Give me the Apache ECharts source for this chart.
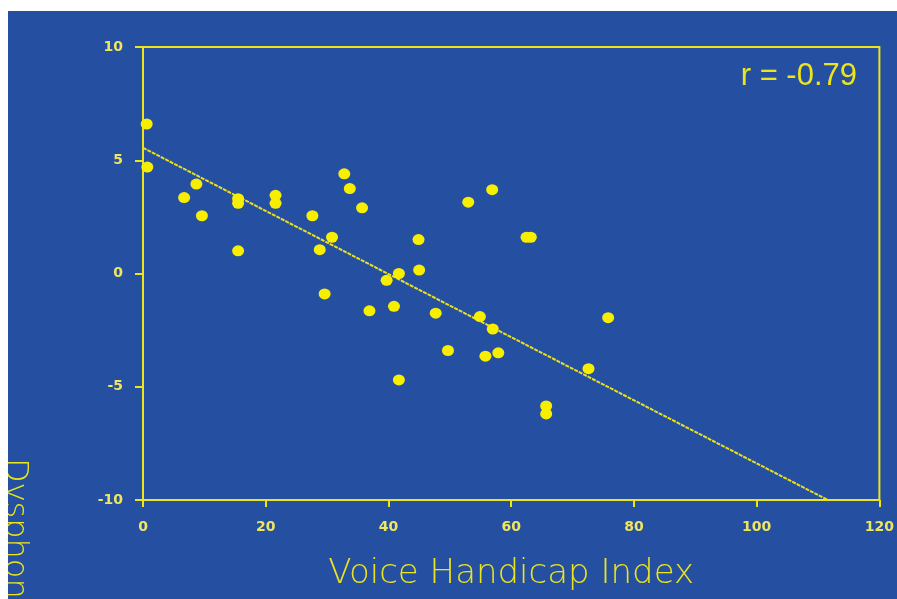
<!DOCTYPE html>
<html>
<head>
<meta charset="utf-8">
<script src="https://cdn.jsdelivr.net/npm/echarts@6/dist/echarts.min.js"></script>
<style>
  html, body { margin: 0; padding: 0; background: #ffffff; }
  #main { position: absolute; left: 8px; top: 11px; width: 889px; height: 588px; }
</style>
</head>
<body>
<div id="main"></div>
<script>
// Voice Handicap Index (x) vs dysphonia score (y)
const vhi = [0.6, 0.7, 6.7, 8.7, 9.6, 15.5, 15.5, 15.5, 21.6, 21.6, 27.6, 28.8, 29.6, 30.8, 32.8, 33.7, 35.7, 36.9, 39.7, 40.9,
             41.7, 41.7, 44.9, 45.0, 47.7, 49.7, 53.0, 54.9, 55.8, 56.9, 57.0, 57.9, 62.5, 63.2, 65.7, 65.7, 72.6, 75.8];
const dsi = [6.6, 4.7, 3.35, 3.95, 2.55, 3.3, 3.1, 1.0, 3.45, 3.1, 2.55, 1.05, -0.9, 1.6, 4.4, 3.75, 2.9, -1.65, -0.3, -1.45,
             0.0, -4.7, 1.5, 0.15, -1.75, -3.4, 3.15, -1.9, -3.65, 3.7, -2.45, -3.5, 1.6, 1.6, -5.85, -6.2, -4.2, -1.95];
// fitted line end points
const fitX = [0, 111.6];
const fitY = [5.55, -10];
const xTicks = [0, 20, 40, 60, 80, 100, 120];
const yTicks = [-10, -5, 0, 5, 10];

const yellow = '#ece41c';
const labelColor = '#eee660';
const blue = '#254fa0';

let myChart = echarts.init(document.getElementById('main'));
let option = {
  backgroundColor: blue,
  animation: false,
  grid: {
    left: 135, top: 36, width: 737, height: 453,
    show: true, borderColor: yellow, borderWidth: 2, backgroundColor: 'transparent'
  },
  xAxis: {
    type: 'value', min: xTicks[0], max: xTicks[xTicks.length - 1], interval: 20,
    name: 'Voice Handicap Index', nameLocation: 'middle', nameGap: 57,
    nameTextStyle: { color: yellow, fontSize: 34, fontFamily: 'DejaVu Sans', fontWeight: 200 },
    axisLine: { show: true, onZero: false, lineStyle: { color: yellow, width: 2 } },
    axisTick: { show: true, inside: false, length: 7, lineStyle: { color: yellow, width: 2 } },
    axisLabel: { color: labelColor, fontSize: 14, fontWeight: 'bold', fontFamily: 'DejaVu Sans', margin: 20 },
    splitLine: { show: false }
  },
  yAxis: {
    type: 'value', min: yTicks[0], max: yTicks[yTicks.length - 1], interval: 5,
    axisLine: { show: true, onZero: false, lineStyle: { color: yellow, width: 2 } },
    axisTick: { show: true, inside: false, length: 8, lineStyle: { color: yellow, width: 2 } },
    axisLabel: { color: labelColor, fontSize: 14, fontWeight: 'bold', fontFamily: 'DejaVu Sans', margin: 20 },
    splitLine: { show: false }
  },
  graphic: [
    {
      type: 'text', right: 40, top: 50,
      style: { text: 'r = -0.79', fill: yellow, fontSize: 31, fontFamily: 'Liberation Sans' }
    },
    {
      type: 'text', x: 22, y: 447, rotation: -Math.PI / 2,
      style: { text: 'Dysphonia Severity Index', fill: yellow, fontSize: 32,
               fontFamily: 'DejaVu Sans', fontWeight: 200, align: 'left', verticalAlign: 'top' }
    }
  ],
  series: [
    {
      type: 'line',
      data: fitX.map((x, i) => [x, fitY[i]]),
      symbol: 'none',
      lineStyle: { color: '#e8e020', width: 2, type: [4, 1] },
      z: 2
    },
    {
      type: 'scatter',
      data: vhi.map((x, i) => [x, dsi[i]]),
      symbol: 'circle',
      symbolSize: [12, 11],
      itemStyle: { color: '#f8ee00', opacity: 1 },
      z: 3
    }
  ]
};
myChart.setOption(option);
</script>
</body>
</html>
